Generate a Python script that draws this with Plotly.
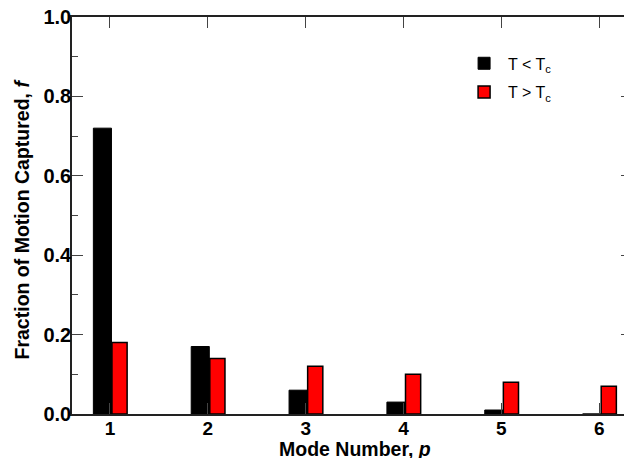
import plotly.graph_objects as go

modes = [1, 2, 3, 4, 5, 6]
below_tc = [0.72, 0.17, 0.06, 0.03, 0.01, 0.0]
above_tc = [0.18, 0.14, 0.12, 0.10, 0.08, 0.07]
legend_names = ["T &lt; T<sub>c</sub>", "T &gt; T<sub>c</sub>"]
y_ticks = [0.0, 0.2, 0.4, 0.6, 0.8, 1.0]
x_title = "Mode Number, <i>p</i>"
y_title = "Fraction of Motion Captured, <i>f</i>"

FONT = "Liberation Sans, Arial, Helvetica, sans-serif"

fig = go.Figure()
fig.add_trace(go.Bar(
    x=modes, y=below_tc, name=legend_names[0], legendgroup="a",
    width=0.185, offset=-0.17,
    marker=dict(color="black", line=dict(color="black", width=1)),
))
fig.add_trace(go.Bar(
    x=modes, y=above_tc, name=legend_names[1], legendgroup="b",
    width=0.155, offset=0.02,
    marker=dict(color="#ff0000", line=dict(color="black", width=1.5)),
))

# page body has an 8px margin, so the figure is sized to fit the 632x458 window
fig.update_layout(
    width=624, height=450,
    margin=dict(l=64, r=0, t=9, b=44, pad=0),
    paper_bgcolor="white", plot_bgcolor="white",
    barmode="overlay",
    font=dict(family=FONT, color="black"),
    showlegend=True,
    legend=dict(
        x=0.693, y=0.926, xanchor="left", yanchor="top",
        font=dict(family=FONT, size=16, color="black"),
        bgcolor="rgba(0,0,0,0)", tracegroupgap=5, itemwidth=38,
    ),
    xaxis=dict(
        range=[0.6117, 6.3348], tickvals=modes, ticktext=[str(m) for m in modes],
        ticks="inside", ticklen=11, tickwidth=1.2, tickcolor="#444",
        showline=True, linecolor="#222", linewidth=1.5, mirror="ticks",
        showgrid=False, zeroline=False, automargin=False,
        ticklabelstandoff=-4, ticklabeloverflow="allow",
        tickfont=dict(family=FONT, size=19, weight="bold"),
    ),
    yaxis=dict(
        range=[0, 1], tickvals=y_ticks, tickformat=".1f",
        ticks="inside", ticklen=11, tickwidth=1.2, tickcolor="#444",
        minor=dict(dtick=0.1, ticks="inside", ticklen=6, tickcolor="#444", tickwidth=1),
        showline=True, linecolor="#222", linewidth=1.5, mirror="ticks",
        showgrid=False, zeroline=False, automargin=False,
        ticklabelstandoff=-5, ticklabeloverflow="allow",
        tickfont=dict(family=FONT, size=20, weight="bold"),
    ),
    annotations=[
        dict(text=x_title, xref="paper", yref="paper", x=0.505, y=0,
             xanchor="center", yanchor="middle", yshift=-35, showarrow=False,
             font=dict(family=FONT, size=19.5, weight="bold")),
        dict(text=y_title, xref="paper", yref="paper", x=0, y=0.49,
             xanchor="center", yanchor="middle", xshift=-50, textangle=-90, showarrow=False,
             font=dict(family=FONT, size=19.5, weight="bold")),
    ],
)

fig.write_html("out.html")
